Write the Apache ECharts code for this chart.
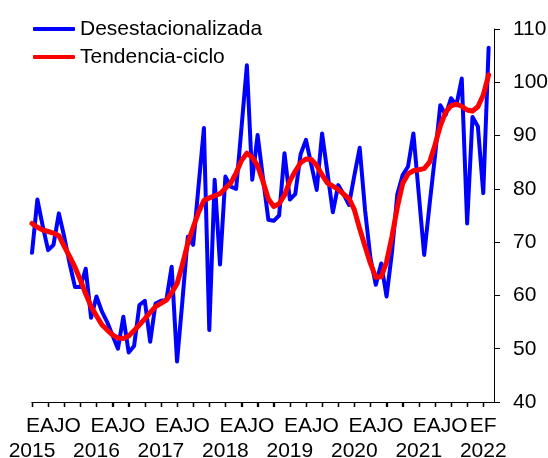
<!DOCTYPE html>
<html>
<head>
<meta charset="utf-8">
<script src="https://cdn.jsdelivr.net/npm/echarts/dist/echarts.min.js"></script>
<style>html,body{margin:0;padding:0;background:#fff}#c{width:548px;height:458px}</style>
</head>
<body>
<div id="c"></div>
<script>
// Monthly data, January 2015 .. February 2022
const years = ['2015', '2016', '2017', '2018', '2019', '2020', '2021', '2022'];
const yearLetters = ['EAJO', 'EAJO', 'EAJO', 'EAJO', 'EAJO', 'EAJO', 'EAJO', 'EF'];
const desestacionalizada = [
  68, 78, 73, 68.5, 69.5, 75.4, 71, 66, 61.6, 61.6, 65, 55.8,
  59.8, 57, 55, 52.5, 50, 56, 49.3, 50.5, 58.2, 59, 51.3, 58.5,
  59, 59.1, 65.4, 47.6, 59, 71, 69.5, 80.5, 91.4, 53.5, 81.7, 65.8,
  82.3, 80.4, 80, 91.5, 103.2, 81.7, 90.1, 82, 74.2, 74, 75, 86.7,
  78, 79, 86.5, 89.2, 84.5, 79.8, 90.4, 83, 75.6, 80.7, 79, 77,
  82.5, 87.7, 76, 67, 62, 66, 59.8, 68, 79, 82.6, 84.2, 90.4,
  79, 67.6, 77, 86, 95.7, 93.9, 97, 95.7, 100.7, 73.5, 93.5, 91.7,
  79.2, 106.5
];
const tendenciaCiclo = [
  73.5, 72.8, 72.3, 72, 71.7, 71.2, 69.2, 67.3, 65.3, 62.9, 60.3, 57.9,
  56.2, 54.5, 53.5, 52.6, 52, 51.9, 52.4, 53.4, 54.5, 55.6, 56.8, 57.9,
  58.5, 59.1, 60.5, 62.2, 65.8, 69.8, 72.8, 75.6, 77.8, 78.3, 78.7, 79.1,
  80.1, 81.1, 83, 85.3, 86.7, 85.9, 84.3, 81.4, 78.1, 76.7, 77.2, 78.8,
  81.5, 83.3, 84.9, 85.6, 85.5, 84.4, 82.6, 81.1, 80.5, 79.9, 79, 78.2,
  76.1, 72.5, 69.2, 66, 63.4, 63.5, 66.3, 71, 76.5, 81, 82.8, 83.4,
  83.6, 83.8, 85, 88.2, 91.8, 94.4, 95.6, 95.9, 95.5, 94.8, 94.6, 95.4,
  97.6, 101.4
];
const yTicks = { min: 40, max: 110, step: 10 };

// category slots: one per month plus one trailing empty slot
const categories = [];
for (let i = 0; i <= desestacionalizada.length; i++) {
  categories.push(years[0] * 1 + Math.floor(i / 12) + '-' + ((i % 12) + 1));
}
const nData = desestacionalizada.length;
const lastJan = Math.floor((nData - 1) / 12) * 12;
// quarterly tick positions (month indices)
const quarterTicks = [];
for (let i = 0; i < nData; i += 3) quarterTicks.push(i);

const FONT = 'Liberation Sans, Arial, sans-serif';
const chart = echarts.init(document.getElementById('c'));
chart.setOption({
  animation: false,
  backgroundColor: '#fff',
  textStyle: { fontFamily: FONT },
  grid: { left: 32, right: 54, top: 29, bottom: 56, containLabel: false, outerBoundsMode: 'none' },
  legend: {
    orient: 'vertical',
    left: 33,
    top: 18,
    padding: 0,
    itemWidth: 42,
    itemHeight: 4,
    itemGap: 6,
    icon: 'roundRect',
    textStyle: { fontSize: 21, color: '#000', fontFamily: FONT, lineHeight: 22 },
    data: ['Desestacionalizada', 'Tendencia-ciclo']
  },
  xAxis: [
    {
      // main axis: line, quarterly ticks and year labels under each January
      type: 'category',
      data: categories,
      position: 'bottom',
      boundaryGap: false,
      axisLine: { show: true, lineStyle: { color: '#000', width: 1 } },
      axisTick: {
        show: true,
        length: 5,
        interval: 2,
        lineStyle: { color: '#000', width: 1.3 }
      },
      axisLabel: {
        margin: 39,
        fontSize: 21,
        color: '#000',
        fontFamily: FONT,
        hideOverlap: false,
        interval: function (index) { return index % 12 === 0 && index < nData; },
        formatter: function (value, index) { return years[Math.floor(index / 12)]; }
      },
      splitLine: { show: false }
    },
    {
      // month-initial labels of each year
      type: 'category',
      data: categories,
      position: 'bottom',
      boundaryGap: false,
      axisLine: { show: false },
      axisTick: { show: false },
      axisLabel: {
        margin: 14,
        fontSize: 21,
        color: '#000',
        fontFamily: FONT,
        hideOverlap: false,
        interval: function (index) {
          if (index === lastJan) return true;
          return index % 12 === 4 && index < lastJan;
        },
        formatter: function (value, index) { return yearLetters[Math.floor(index / 12)]; }
      },
      splitLine: { show: false }
    }
  ],
  yAxis: {
    type: 'value',
    position: 'right',
    min: yTicks.min,
    max: yTicks.max,
    interval: yTicks.step,
    axisLine: { show: true, onZero: false, lineStyle: { color: '#000', width: 1 } },
    axisTick: { show: true, length: 6, lineStyle: { color: '#000', width: 1 } },
    axisLabel: { margin: 19, fontSize: 21, color: '#000', fontFamily: FONT },
    splitLine: { show: false }
  },
  series: [
    {
      name: 'Desestacionalizada',
      type: 'line',
      data: desestacionalizada,
      showSymbol: false,
      symbol: 'none',
      color: '#0000FF',
      lineStyle: { color: '#0000FF', width: 4, join: 'round', cap: 'round' }
    },
    {
      name: 'Tendencia-ciclo',
      type: 'line',
      data: tendenciaCiclo,
      showSymbol: false,
      symbol: 'none',
      color: '#FF0000',
      lineStyle: { color: '#FF0000', width: 5, join: 'round', cap: 'round' }
    },
    {
      // quarterly tick marks under the category axis, placed through the axis scale
      name: 'ticks',
      type: 'custom',
      silent: true,
      clip: false,
      z: 10,
      data: quarterTicks.map(function (i) { return [i, yTicks.min]; }),
      renderItem: function (params, api) {
        const p = api.coord([api.value(0), api.value(1)]);
        const x = Math.round(p[0]) + 0.5;
        const y = Math.round(p[1]);
        return {
          type: 'line',
          shape: { x1: x, y1: y, x2: x, y2: y + 5 },
          style: { stroke: '#000', lineWidth: 1.3 }
        };
      }
    }
  ]
});
</script>
</body>
</html>
